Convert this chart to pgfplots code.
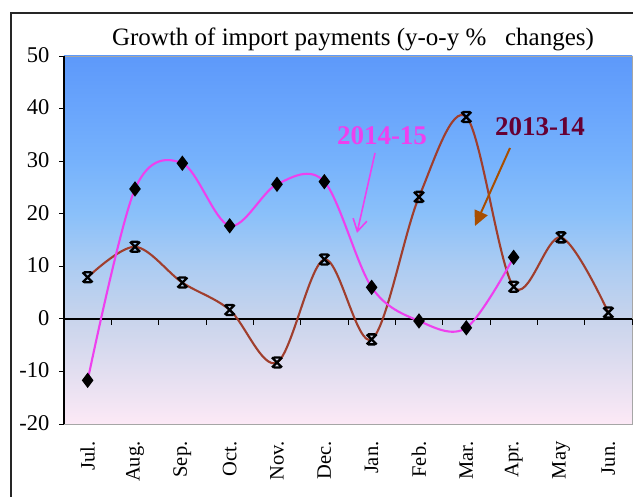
\documentclass[border=0pt]{standalone}
\usepackage{fontspec}
\setmainfont{Liberation Serif}
\usepackage{pgfplots}
\pgfplotsset{compat=1.18}
\usetikzlibrary{arrows.meta}
\definecolor{magline}{RGB}{238,64,238}
\definecolor{brownline}{RGB}{160,62,45}
\definecolor{lab13}{RGB}{102,0,51}
\definecolor{arr13}{RGB}{168,78,0}
\definecolor{s0}{RGB}{252,233,246}
\definecolor{s1}{RGB}{226,222,240}
\definecolor{s2}{RGB}{200,212,236}
\definecolor{s3}{RGB}{172,204,242}
\definecolor{s4}{RGB}{138,192,250}
\definecolor{s5}{RGB}{118,178,252}
\definecolor{s6}{RGB}{105,165,252}
\definecolor{s7}{RGB}{93,153,250}
\pgfdeclareverticalshading{bgshade}{100bp}{color(0bp)=(s0); color(25bp)=(s0); color(32.14bp)=(s1); color(39.29bp)=(s2); color(46.43bp)=(s3); color(53.57bp)=(s4); color(60.71bp)=(s5); color(67.86bp)=(s6); color(75bp)=(s7); color(100bp)=(s7)}
\pgfdeclareplotmark{hglass}{%
  \pgfpathmoveto{\pgfqpoint{-\pgfplotmarksize}{-\pgfplotmarksize}}%
  \pgfpathlineto{\pgfqpoint{\pgfplotmarksize}{\pgfplotmarksize}}%
  \pgfpathmoveto{\pgfqpoint{-\pgfplotmarksize}{\pgfplotmarksize}}%
  \pgfpathlineto{\pgfqpoint{\pgfplotmarksize}{-\pgfplotmarksize}}%
  \pgfpathmoveto{\pgfqpoint{-0.7\pgfplotmarksize}{\pgfplotmarksize}}%
  \pgfpathlineto{\pgfqpoint{0.7\pgfplotmarksize}{\pgfplotmarksize}}%
  \pgfpathmoveto{\pgfqpoint{-0.7\pgfplotmarksize}{-\pgfplotmarksize}}%
  \pgfpathlineto{\pgfqpoint{0.7\pgfplotmarksize}{-\pgfplotmarksize}}%
  \pgfusepathqstroke}
\pgfplotstableread{
x y
0 -11.7
1 24.7
2 29.6
3 17.7
4 25.6
5 26.1
6 6.0
7 -0.4
8 -1.7
9 11.7
}\tabA
\pgfplotstableread{
x y
0 7.9
1 13.7
2 6.9
3 1.7
4 -8.3
5 11.3
6 -3.9
7 23.2
8 38.4
9 6.1
10 15.5
11 1.2
}\tabB
\begin{document}
\begin{tikzpicture}
\path[use as bounding box] (0,0) rectangle (633pt,497pt);
\draw[black!85, line width=1.2pt] (11pt,-5pt) -- (11pt,484pt) -- (640pt,484pt);
\node[font=\fontsize{25}{28}\selectfont] at (353pt,458pt) {Growth of import payments (y-o-y \%\ \ \ changes)};
\begin{axis}[
  at={(64pt,73pt)}, anchor=south west, scale only axis,
  width=568pt, height=368pt,
  xmin=-0.5, xmax=11.5, ymin=-20, ymax=50,
  axis line style={gray!70, line width=0.8pt},
  axis background/.style={shading=bgshade},
  xtick={0,...,11},
  xticklabels={Jul.,Aug.,Sep.,Oct.,Nov.,Dec.,Jan.,Feb.,Mar.,Apr.,May,Jun.},
  x tick label style={rotate=90, anchor=east, font=\fontsize{20.5}{22}\selectfont, xshift=-9pt},
  x tick style={draw=none},
  ytick={-20,-10,0,10,20,30,40,50},
  yticklabels={-20,-10,0,10,20,30,40,50},
  y tick label style={font=\fontsize{22.5}{24}\selectfont, xshift=-6pt, yshift=1pt},
  y tick style={black, line width=0.8pt},
  ytick pos=left, xtick pos=bottom,
  tick align=outside, major tick length=5pt,
  clip=false,
]
\draw[black, line width=1.1pt] (rel axis cs:0,0) -- (rel axis cs:0,1);
\draw[black, line width=1.6pt] (axis cs:-0.5,0) -- (axis cs:11.5,0);
\pgfplotsinvokeforeach{0,...,11}{\draw[black, line width=0.8pt] (axis cs:#1+0.5,0) -- ++(0pt,-6pt);}
\addplot[brownline, line width=2.1pt, smooth, tension=0.55, mark=hglass, mark size=5pt, mark options={black, line width=2.3pt, solid}] table[x=x,y=y] {\tabB};
\addplot[magline, line width=2.1pt, smooth, tension=0.55, mark=diamond*, mark size=6pt, mark options={black, fill=black, solid}] table[x=x,y=y] {\tabA};
\end{axis}
\node[font=\bfseries\fontsize{27}{30}\selectfont, text=magline] at (382pt,361pt) {2014-15};
\node[font=\bfseries\fontsize{27}{30}\selectfont, text=lab13] at (540pt,370pt) {2013-14};
\draw[magline, line width=1.6pt, -{Straight Barb[length=12pt, width=14pt]}] (375pt,344pt) -- (357pt,264pt);
\draw[arr13, line width=2pt, -{Triangle[length=15pt, width=14pt]}] (510pt,349pt) -- (475pt,271pt);
\end{tikzpicture}
\end{document}
